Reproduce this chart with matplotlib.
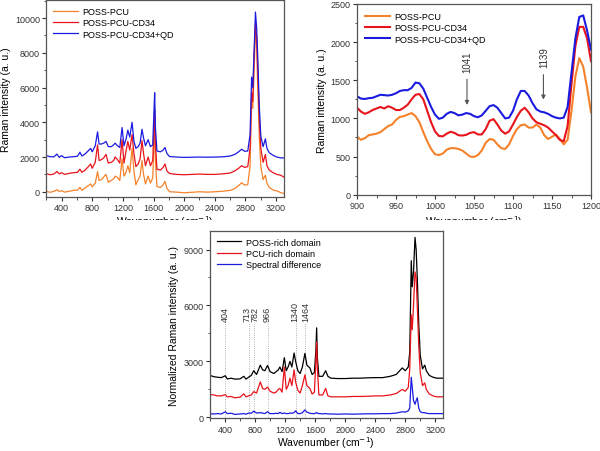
import numpy as np
import pandas as pd
import matplotlib
matplotlib.use('Agg')
import matplotlib.pyplot as plt
from matplotlib.ticker import MultipleLocator
from matplotlib.patches import Rectangle

plt.rcParams['font.family'] = ['Liberation Sans', 'DejaVu Sans']

# ---------------- data: full spectra (top left) ----------------
wn_full = [200, 250, 300, 340, 370, 400, 440, 500, 560, 610,
           640, 665, 700, 740, 780, 800, 840, 870, 890, 920,
           950, 980, 1010, 1050, 1080, 1100, 1130, 1160, 1190, 1215,
           1240, 1265, 1290, 1320, 1345, 1370, 1400, 1425, 1450, 1470,
           1495, 1530, 1560, 1590, 1605, 1615, 1625, 1645, 1690, 1725,
           1750, 1775, 1810, 1900, 2000, 2100, 2200, 2300, 2400, 2500,
           2600, 2660, 2710, 2750, 2790, 2830, 2860, 2880, 2895, 2910,
           2930, 2945, 2960, 2980, 3000, 3030, 3060, 3080, 3110, 3160,
           3210, 3260, 3300]
poss_pcu = [30, -30, 20, 120, 20, 60, -20, 30, 80, 100,
            260, 80, 200, 320, 450, 280, 500, 1150, 650, 700,
            850, 1000, 550, 650, 750, 900, 820, 650, 1900, 900,
            1100, 1500, 1100, 2500, 1200, 400, 700, 900, 1800, 1000,
            450, 900, 500, 800, 2600, 3600, 1800, 300, 250, 400,
            600, 200, 0, -20, -60, -30, 0, -20, 0, 30,
            80, 180, 350, 520, 380, 420, 1500, 5300, 4800, 6500,
            9400, 8500, 6000, 3200, 1500, 700, 950, 500, 250, 100,
            50, -50, -100]
poss_pcu_cd34 = [1050, 980, 1020, 1170, 1030, 1100, 1000, 1060, 1100, 1120,
                 1300, 1120, 1220, 1400, 1600, 1350, 1700, 2700, 1800, 1850,
                 1950, 2150, 1650, 1700, 1800, 2000, 1850, 1650, 3000, 1650,
                 2300, 2900, 2400, 3300, 2200, 1450, 1600, 1900, 2950, 2200,
                 1500, 2000, 1500, 1800, 3600, 4700, 2800, 1300, 1250, 1400,
                 1600, 1200, 1050, 1000, 980, 1000, 1020, 1000, 1000, 1030,
                 1080, 1200, 1350, 1500, 1400, 1450, 2500, 5700, 5200, 7500,
                 9700, 9000, 7000, 4200, 2500, 1700, 2150, 1500, 1250, 1100,
                 1000, 950, 850]
poss_pcu_cd34_qd = [2080, 2020, 2010, 2170, 1980, 2080, 1960, 2000, 2020, 2050,
                    2280, 2060, 2150, 2320, 2500, 2300, 2650, 3450, 2750, 2750,
                    2800, 2900, 2600, 2600, 2700, 2800, 2650, 2550, 3700, 2650,
                    3000, 3550, 3150, 4000, 2900, 2500, 2600, 2800, 3600, 3100,
                    2650, 3000, 2600, 2700, 4500, 5700, 3700, 2350, 2300, 2400,
                    2550, 2200, 2030, 2000, 1980, 1990, 2000, 1990, 2000, 2010,
                    2060, 2150, 2300, 2450, 2330, 2350, 3300, 6600, 6000, 7800,
                    10350, 9500, 7800, 5000, 3200, 2600, 3050, 2500, 2250, 2100,
                    2000, 1950, 1950]

# ---------------- data: 900-1200 detail (top right) ----------------
wn_zoom = list(range(900, 1201, 5))
zoom_pcu = [760, 720, 740, 780, 790, 800, 820, 860, 900, 920,
            980, 1020, 1030, 1050, 1070, 1030, 950, 820, 700, 600,
            530, 520, 540, 590, 610, 610, 600, 580, 540, 500,
            495, 520, 580, 680, 730, 720, 660, 610, 600, 660,
            770, 860, 910, 920, 880, 880, 920, 880, 780, 730,
            760, 790, 730, 660, 720, 1100, 1550, 1790, 1680, 1400,
            1080]
zoom_cd34 = [1140, 1090, 1060, 1080, 1110, 1130, 1150, 1130, 1160, 1140,
             1110, 1110, 1140, 1180, 1250, 1310, 1320, 1250, 1100, 950,
             830, 770, 765, 800, 825, 810, 780, 775, 785, 810,
             820, 790, 790, 860, 970, 990, 920, 840, 800, 830,
             920, 1020, 1100, 1140, 1080, 1000, 950, 930, 910, 880,
             830, 780, 720, 700, 900, 1450, 1950, 2200, 2200, 2050,
             1750]
zoom_qd = [1290, 1260, 1255, 1265, 1270, 1290, 1310, 1305, 1300, 1310,
           1330, 1360, 1370, 1370, 1400, 1470, 1460, 1390, 1270, 1150,
           1050, 995, 1010, 1060, 1085, 1070, 1040, 1050, 1070, 1060,
           1030, 1015, 1040, 1100, 1160, 1175, 1140, 1070, 1000, 1010,
           1100, 1250, 1360, 1360, 1300, 1200, 1120, 1090, 1080, 1060,
           1030, 1010, 1000, 1010, 1150, 1600, 2050, 2330, 2350, 2150,
           1900]
zoom_marks = [1041, 1139]

# ---------------- data: domains (bottom) ----------------
wn_dom = [200, 250, 300, 350, 404, 430, 480, 530, 600, 650,
          680, 713, 750, 782, 820, 870, 900, 930, 966, 1000,
          1050, 1080, 1110, 1130, 1160, 1190, 1215, 1240, 1265, 1290,
          1320, 1340, 1370, 1400, 1430, 1464, 1490, 1530, 1560, 1590,
          1610, 1620, 1630, 1650, 1700, 1740, 1770, 1810, 1900, 2000,
          2100, 2200, 2300, 2400, 2500, 2600, 2680, 2760, 2800, 2840,
          2860, 2880, 2893, 2910, 2930, 2945, 2960, 2980, 3000, 3030,
          3060, 3080, 3120, 3170, 3220, 3300]
poss_rich = [2250, 2180, 2150, 2130, 2230, 2060, 2100, 2050, 2060, 2200,
             2050, 2150, 2250, 2500, 2300, 2800, 2550, 2500, 2780, 2450,
             2350, 2450, 2550, 2700, 2450, 3200, 2500, 2700, 3000, 2700,
             3450, 3000, 2500, 2350, 2700, 3430, 2800, 2650, 2300, 2400,
             3600, 4800, 3200, 2200, 2200, 2500, 2200, 2100, 2080, 2080,
             2100, 2100, 2120, 2130, 2130, 2200, 2300, 2650, 2500, 2700,
             3500, 8400, 7000, 7800, 9650, 9000, 7500, 5000, 3300, 2600,
             2800, 2500, 2250, 2150, 2100, 2100]
pcu_rich = [1230, 1200, 1150, 1150, 1220, 1100, 1120, 1050, 1080, 1260,
            1100, 1150, 1200, 1380, 1300, 1900, 1550, 1500, 1620, 1400,
            1300, 1350, 1500, 1550, 1350, 2700, 1500, 1700, 2100, 1700,
            2550, 1900, 1450, 1300, 1700, 2280, 1700, 1550, 1250, 1350,
            3000, 4050, 2600, 1200, 1200, 1550, 1150, 1100, 1100, 1100,
            1120, 1120, 1130, 1150, 1150, 1200, 1280, 1500, 1400, 1600,
            2600, 5500, 4700, 6000, 7800, 7500, 6000, 3800, 2400, 1700,
            1850, 1500, 1250, 1150, 1100, 1100]
difference = [200, 180, 200, 180, 300, 200, 220, 160, 180, 200,
              170, 230, 220, 330, 230, 250, 230, 200, 300, 200,
              200, 220, 200, 270, 200, 230, 200, 200, 230, 220,
              250, 350, 200, 200, 250, 400, 280, 220, 200, 200,
              230, 260, 220, 200, 190, 200, 180, 180, 170, 180,
              170, 180, 190, 190, 200, 200, 230, 300, 280, 350,
              500, 2150, 1600, 900, 700, 900, 1050, 500, 300, 250,
              250, 220, 200, 200, 200, 200]
dom_marks = [404, 713, 782, 966, 1340, 1464]
dom_label_shift = [0, -16, 22, 0, -12, 12]

full = pd.DataFrame({'wn': wn_full, 'pcu': poss_pcu, 'cd34': poss_pcu_cd34, 'qd': poss_pcu_cd34_qd})
zoom = pd.DataFrame({'wn': wn_zoom, 'pcu': zoom_pcu, 'cd34': zoom_cd34, 'qd': zoom_qd})
dom = pd.DataFrame({'wn': wn_dom, 'poss': poss_rich, 'pcu': pcu_rich, 'diff': difference})

c_orange = '#F5822A'
c_red = '#E8141C'
c_blue = '#1B1BE0'
spine_c = '#555555'
xlab = r'Wavenumber (cm$^{-1}$)'
leg_kw = dict(loc='upper left', frameon=False, fontsize=6.5, handlelength=2.7,
              labelspacing=0.25, handletextpad=0.5)


def style(ax):
    for s in ax.spines.values():
        s.set_color(spine_c)
        s.set_linewidth(0.9)
    ax.tick_params(which='both', direction='out', colors='#333333', labelsize=6.5,
                   top=False, right=False, pad=1.5)
    ax.tick_params(which='major', length=3)
    ax.tick_params(which='minor', length=1.8)


fig = plt.figure(figsize=(6, 4.52), dpi=100)

# top left
ax1 = fig.add_axes([0.077, 0.562, 0.396, 0.436])
ax1.plot(full['wn'], full['pcu'], color=c_orange, lw=0.9, label='POSS-PCU')
ax1.plot(full['wn'], full['cd34'], color=c_red, lw=0.9, label='POSS-PCU-CD34')
ax1.plot(full['wn'], full['qd'], color=c_blue, lw=0.9, label='POSS-PCU-CD34+QD')
ax1.set_xlim(200, 3300)
ax1.set_ylim(-300, 11050)
ax1.set_xticks(np.arange(400, 3300, 400))
ax1.xaxis.set_minor_locator(MultipleLocator(200))
ax1.yaxis.set_major_locator(MultipleLocator(2000))
ax1.yaxis.set_minor_locator(MultipleLocator(1000))
ax1.set_ylabel('Raman intensity (a. u.)', fontsize=7.5, labelpad=3)
ax1.set_xlabel(xlab, fontsize=7.5)
ax1.xaxis.set_label_coords(0.5, -0.082)
ax1.legend(borderaxespad=0.4, **leg_kw)
style(ax1)

# top right
ax2 = fig.add_axes([0.595, 0.567, 0.39, 0.422])
ax2.plot(zoom['wn'], zoom['pcu'], color=c_orange, lw=1.5, label='POSS-PCU')
ax2.plot(zoom['wn'], zoom['cd34'], color=c_red, lw=1.5, label='POSS-PCU-CD34')
ax2.plot(zoom['wn'], zoom['qd'], color=c_blue, lw=1.5, label='POSS-PCU-CD34+QD')
ax2.set_xlim(900, 1200)
ax2.set_ylim(0, 2500)
ax2.xaxis.set_major_locator(MultipleLocator(50))
ax2.xaxis.set_minor_locator(MultipleLocator(25))
ax2.yaxis.set_major_locator(MultipleLocator(500))
ax2.yaxis.set_minor_locator(MultipleLocator(250))
for m, y_top, y_tip in zip(zoom_marks, [1550, 1610], [1140, 1210]):
    ax2.annotate('', xy=(m, y_tip), xytext=(m, y_top),
                 arrowprops=dict(arrowstyle='-|>', color='#555555', lw=0.8,
                                 mutation_scale=6))
    ax2.text(m + 1, y_top + 60, str(m), rotation=90, ha='center', va='bottom',
             fontsize=7, color='#333333')
ax2.set_ylabel('Raman intensity (a. u.)', fontsize=7.5, labelpad=3)
ax2.set_xlabel(xlab, fontsize=7.5)
ax2.xaxis.set_label_coords(0.5, -0.095)
ax2.legend(borderaxespad=0.5, **leg_kw)
style(ax2)

# white band that cuts off the upper x labels, as in the original layout
fig.patches.append(Rectangle((0, 0), 1, 1 - 221 / 452, transform=fig.transFigure,
                             facecolor='white', edgecolor='none', zorder=1))

# bottom
ax3 = fig.add_axes([0.35, 0.072, 0.388, 0.415], zorder=2)
ax3.plot(dom['wn'], dom['poss'], color='black', lw=0.9, label='POSS-rich domain')
ax3.plot(dom['wn'], dom['pcu'], color=c_red, lw=0.9, label='PCU-rich domain')
ax3.plot(dom['wn'], dom['diff'], color=c_blue, lw=0.9, label='Spectral difference')
for m, dx in zip(dom_marks, dom_label_shift):
    ax3.plot([m, m], [0, 5050], color='#999999', lw=0.6, ls=':', zorder=0.5)
    ax3.text(m + dx, 5150, str(m), rotation=90, ha='center', va='bottom', fontsize=6.5,
             color='#333333')
ax3.set_xlim(200, 3300)
ax3.set_ylim(-60, 10000)
ax3.set_xticks(np.arange(400, 3300, 400))
ax3.xaxis.set_minor_locator(MultipleLocator(200))
ax3.yaxis.set_major_locator(MultipleLocator(3000))
ax3.yaxis.set_minor_locator(MultipleLocator(1500))
ax3.set_ylabel('Normalized Raman intensity (a. u.)', fontsize=7.5, labelpad=3)
ax3.set_xlabel(xlab, fontsize=7.5, labelpad=0.5)
ax3.legend(borderaxespad=0.35, **leg_kw)
style(ax3)

fig.savefig('out.png', dpi=100)
